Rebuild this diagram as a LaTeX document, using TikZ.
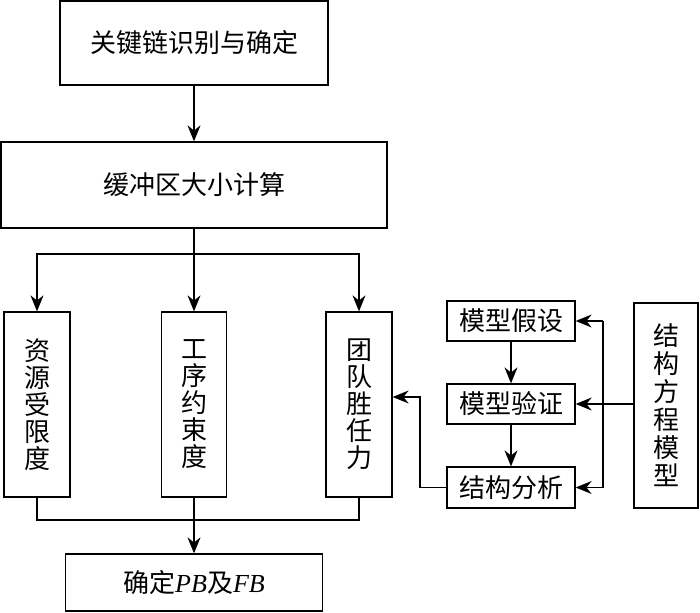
\documentclass[tikz,border=0pt]{standalone}
\usepackage{fontspec}
\setmainfont{Liberation Serif}
\newfontfamily\cjk{Noto Sans CJK SC}
\usepackage{tikz}
\usetikzlibrary{arrows.meta}
\def\pbfb{确定{\rmfamily\itshape PB}及{\rmfamily\itshape FB}}

\begin{document}
\begin{tikzpicture}[x=1pt,y=-1pt,line width=1.3pt,
		box/.style={draw,inner sep=0pt,font=\cjk\fontsize{26}{27}\selectfont,align=center},
		arr/.style={-{Stealth[length=16pt,width=13pt]}}]
			\useasboundingbox (0,0) rectangle (700,612);
			\node[box,minimum width=268pt,minimum height=84pt] (key) at (194,43) {关键链识别与确定};
			\node[box,minimum width=386pt,minimum height=86pt] (buf) at (194,185) {缓冲区大小计算};
			\node[box,minimum width=66pt,minimum height=185pt] (res) at (37,404.5) {资\\源\\受\\限\\度};
			\node[box,minimum width=65pt,minimum height=185pt] (seq) at (194,404.5) {工\\序\\约\\束\\度};
			\node[box,minimum width=66pt,minimum height=185pt] (team) at (359,404.5) {团\\队\\胜\\任\\力};
			\node[box,minimum width=257pt,minimum height=57pt] (pb) at (194,582.5) {\pbfb};
			\node[box,minimum width=128pt,minimum height=40pt] (hyp) at (511,321) {模型假设};
			\node[box,minimum width=128pt,minimum height=40pt] (ver) at (511,404) {模型验证};
			\node[box,minimum width=128pt,minimum height=41pt] (ana) at (511,487.5) {结构分析};
			\node[box,minimum width=64pt,minimum height=205pt,font=\cjk\fontsize{26}{28}\selectfont] (sem) at (666,405.5) {结\\构\\方\\程\\模\\型};
			\coordinate (split) at (194,254);
			\coordinate (join) at (194,520);
			\coordinate (bus) at (603,404);
			\coordinate (back) at (420,397);
			\draw[arr] (key) -- (buf);
			\draw (buf.south) -- (split);
			\draw[arr] (split) -| (res.north);
			\draw[arr] (split) -- (seq.north);
			\draw[arr] (split) -| (team.north);
			\draw (res.south) |- (join) -| (team.south);
			\draw[arr] (seq.south) -- (pb.north);
			\draw[arr] (hyp) -- (ver);
			\draw[arr] (ver) -- (ana);
			\draw[arr] (sem.west |- ver.east) -- (ver.east);
			\draw (bus |- hyp.east) -- (bus |- ana.east);
			\draw[arr] (bus |- hyp.east) -- (hyp.east);
			\draw[arr] (bus |- ana.east) -- (ana.east);
			\draw[arr] (ana.west) -| (back) -- (team.east |- back);
		\end{tikzpicture}
\end{document}
